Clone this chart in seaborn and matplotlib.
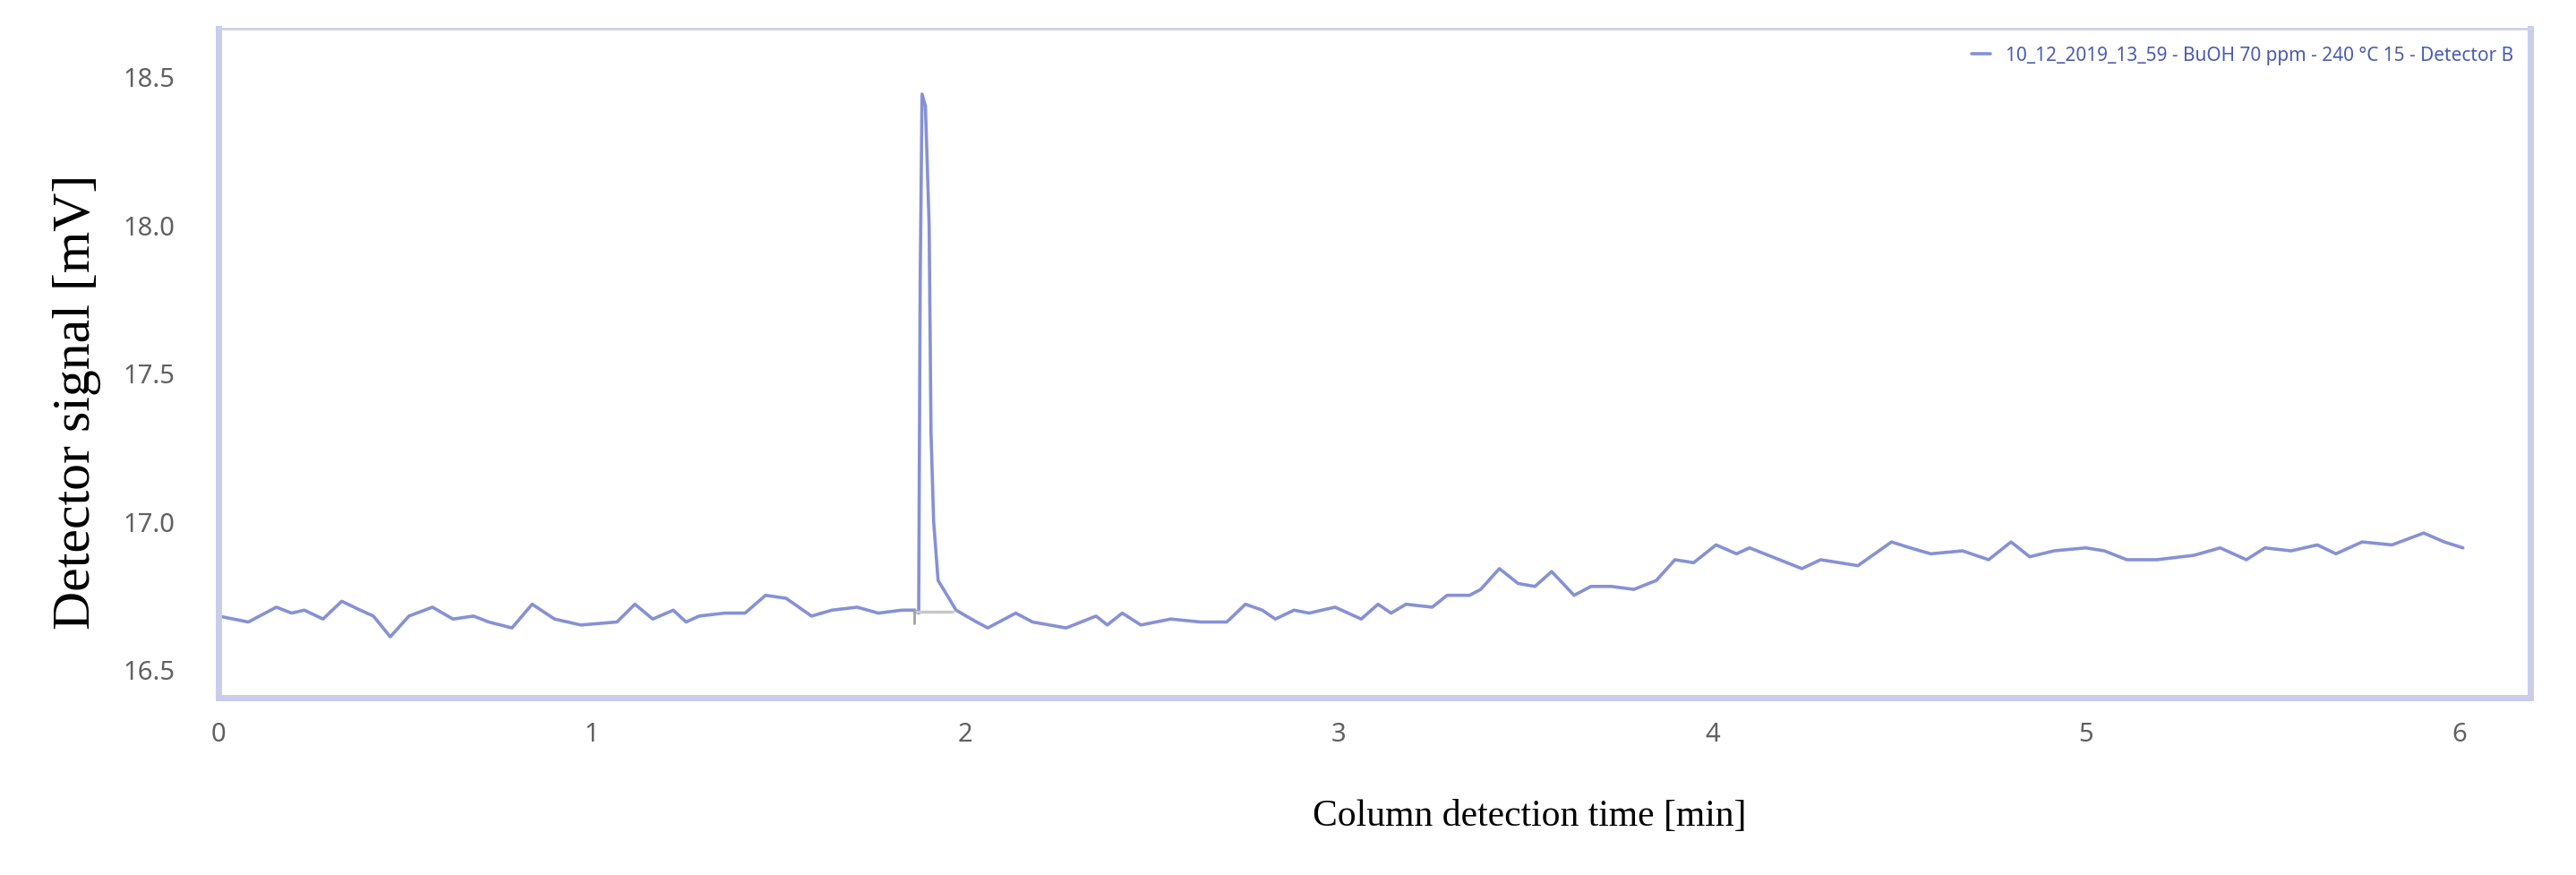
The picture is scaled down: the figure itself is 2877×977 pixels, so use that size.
import numpy as np
import pandas as pd
import matplotlib
matplotlib.use("Agg")
import matplotlib.pyplot as plt
import seaborn as sns

# Chromatogram (time in min, signal in mV)
time_min = [0.0, 0.08, 0.155, 0.196, 0.23, 0.28, 0.33, 0.38, 0.415, 0.46,
            0.51, 0.573, 0.628, 0.683, 0.724, 0.786, 0.84, 0.90, 0.97, 1.067,
            1.115, 1.163, 1.218, 1.252, 1.287, 1.355, 1.41, 1.465, 1.52, 1.588,
            1.643, 1.71, 1.767, 1.83, 1.862, 1.875, 1.879, 1.884, 1.893, 1.903,
            1.908, 1.915, 1.927, 1.956, 1.975, 2.03, 2.06, 2.135, 2.18, 2.27,
            2.35, 2.38, 2.42, 2.47, 2.55, 2.63, 2.70, 2.75, 2.795, 2.83,
            2.88, 2.92, 2.99, 3.06, 3.105, 3.14, 3.18, 3.25, 3.29, 3.35,
            3.38, 3.43, 3.48, 3.525, 3.57, 3.63, 3.675, 3.73, 3.79, 3.85,
            3.90, 3.95, 4.01, 4.065, 4.10, 4.16, 4.24, 4.29, 4.39, 4.48,
            4.53, 4.585, 4.67, 4.74, 4.80, 4.85, 4.915, 5.00, 5.05, 5.11,
            5.19, 5.29, 5.36, 5.43, 5.48, 5.55, 5.62, 5.67, 5.74, 5.82,
            5.905, 5.96, 6.01]
signal_mv = [16.68, 16.66, 16.71, 16.69, 16.70, 16.67, 16.73, 16.70, 16.68, 16.61,
             16.68, 16.71, 16.67, 16.68, 16.66, 16.64, 16.72, 16.67, 16.65, 16.66,
             16.72, 16.67, 16.70, 16.66, 16.68, 16.69, 16.69, 16.75, 16.74, 16.68,
             16.70, 16.71, 16.69, 16.70, 16.70, 16.69, 17.80, 18.44, 18.40, 18.00,
             17.30, 17.00, 16.80, 16.74, 16.70, 16.66, 16.64, 16.69, 16.66, 16.64,
             16.68, 16.65, 16.69, 16.65, 16.67, 16.66, 16.66, 16.72, 16.70, 16.67,
             16.70, 16.69, 16.71, 16.67, 16.72, 16.69, 16.72, 16.71, 16.75, 16.75,
             16.77, 16.84, 16.79, 16.78, 16.83, 16.75, 16.78, 16.78, 16.77, 16.80,
             16.87, 16.86, 16.92, 16.89, 16.91, 16.88, 16.84, 16.87, 16.85, 16.93,
             16.91, 16.89, 16.90, 16.87, 16.93, 16.88, 16.90, 16.91, 16.90, 16.87,
             16.87, 16.885, 16.91, 16.87, 16.91, 16.90, 16.92, 16.89, 16.93, 16.92,
             16.96, 16.93, 16.91]

# peak integration baseline (start, end) and signal level
peak_base_time = [1.862, 1.965]
peak_base_level = 16.695

legend_label = "10_12_2019_13_59 - BuOH 70 ppm - 240 °C 15 - Detector B"
x_ticks = [0, 1, 2, 3, 4, 5, 6]
y_ticks = [16.5, 17.0, 17.5, 18.0, 18.5]

df = pd.DataFrame({"time": time_min, "signal": signal_mv})

sns.set_style("white")
plt.rcParams["font.family"] = ["Noto Sans", "DejaVu Sans"]

fig = plt.figure(figsize=(28.77, 9.78), dpi=100)
ax = fig.add_axes([0.0848, 0.2025, 0.8974, 0.7635])

line_color = "#8691d4"
sns.lineplot(data=df, x="time", y="signal", ax=ax, color=line_color,
             linewidth=2.6, label=legend_label, sort=False)

# integration baseline drawn by the chromatography software
ax.plot(peak_base_time, [peak_base_level, peak_base_level], color="#c8c8c8", lw=2.5)
ax.plot([peak_base_time[0], peak_base_time[0]],
        [peak_base_level - 0.04, peak_base_level + 0.01], color="#a0a0a0", lw=2)

ax.set_xlim(0, 6.19)
ax.set_ylim(16.405, 18.66)
ax.set_xticks(x_ticks)
ax.set_xticklabels([str(t) for t in x_ticks])
ax.set_yticks(y_ticks)
ax.set_yticklabels([f"{v:.1f}" for v in y_ticks])

ax.tick_params(axis="both", colors="#c3c7e3", length=5, width=2.5,
               labelcolor="#606060", labelsize=21)
ax.tick_params(axis="y", pad=30)
ax.tick_params(axis="x", pad=14)

for side in ["left", "bottom", "right"]:
    ax.spines[side].set_color("#c9cdea")
    ax.spines[side].set_linewidth(5)
ax.spines["top"].set_color("#cfd2e4")
ax.spines["top"].set_linewidth(2)

ax.set_xlabel("Column detection time [min]", family="Liberation Serif",
              fontsize=30, color="black")
ax.set_ylabel("Detector signal [mV]", family="Liberation Serif",
              fontsize=43, color="black")
ax.xaxis.set_label_coords(0.567, -0.177)
ax.xaxis.label.set_va("center")
ax.yaxis.set_label_coords(-0.0610, 0.444)
ax.yaxis.label.set_va("center")

leg = ax.legend(loc="upper right", frameon=False, fontsize=15,
                handlelength=1.0, borderaxespad=0.5)
for txt in leg.get_texts():
    txt.set_color("#4a5bb0")

fig.savefig("out.png", dpi=100, facecolor="white")
